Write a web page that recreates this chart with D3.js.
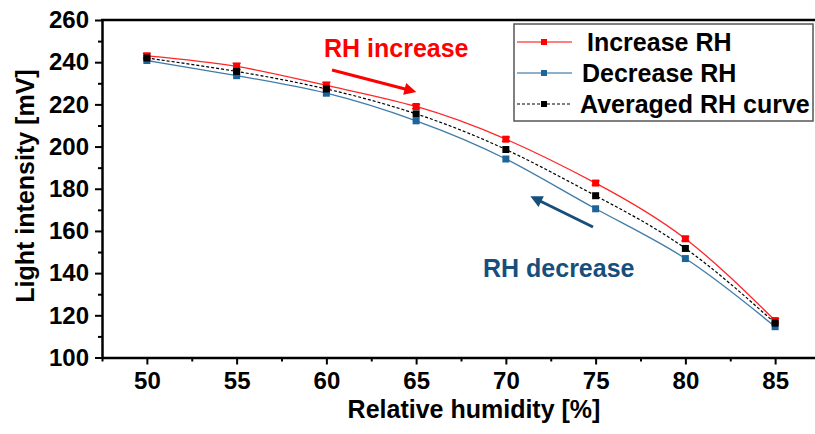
<!DOCTYPE html>
<html>
<head>
<meta charset="utf-8">
<script src="https://cdn.jsdelivr.net/npm/d3@7"></script>
<style>
  body { margin: 0; background: #fff; }
  svg { display: block; font-family: 'Liberation Sans', Arial, sans-serif; font-weight: bold; }
</style>
</head>
<body>
<svg></svg>
<script>
let width = 815;
let height = 434;

// data
let humidity = [50, 55, 60, 65, 70, 75, 80, 85];
let increaseRH = [243, 238, 229, 219, 203.5, 182.7, 156.3, 117.5];
let increaseErr = [1.2, 1.5, 1.5, 1, 1, 1, 1, 1];
let decreaseRH = [240.8, 233.6, 225.3, 212.2, 194.1, 170.5, 146.9, 114.6];
let averagedRH = [242, 235.6, 227.3, 215.5, 198.6, 176.7, 151.7, 116.3];
let xTicks = [50, 55, 60, 65, 70, 75, 80, 85];
let yTicks = [100, 120, 140, 160, 180, 200, 220, 240, 260];

let red = '#ff0000';
let blue = '#1c6499';
let arrowBlue = '#164f7c';

let svg = d3.select('svg')
    .attr('width', width)
    .attr('height', height)

let x = d3.scaleLinear()
    .domain([47.5, 87.5])
    .range([102, 820]);

let y = d3.scaleLinear()
    .domain([100, 260])
    .range([357.5, 20]);

// minor ticks
let xMinor = d3.range(47.5, 88, 2.5).filter(d => xTicks.indexOf(d) < 0);
let yMinor = d3.range(110, 260, 20);

svg.append('g')
    .attr('transform', 'translate(0,357.5)')
    .call(d3.axisBottom(x).tickValues(xMinor).tickSize(4).tickFormat(''))
    .call(g => g.select('.domain').remove())
    .selectAll('line').attr('stroke-width', 2);

svg.append('g')
    .attr('transform', 'translate(102,0)')
    .call(d3.axisLeft(y).tickValues(yMinor).tickSize(4).tickFormat(''))
    .call(g => g.select('.domain').remove())
    .selectAll('line').attr('stroke-width', 2);

let xAxis = svg.append('g')
    .attr('transform', 'translate(0,357.5)')
    .call(d3.axisBottom(x).tickValues(xTicks).tickSize(7).tickPadding(7).tickSizeOuter(0))
xAxis.select('.domain').attr('stroke-width', 2.5)
xAxis.selectAll('line').attr('stroke-width', 2)
xAxis.selectAll('text')
    .attr('font-size', 24)
    .attr('font-family', 'Liberation Sans, Arial, sans-serif')
    .attr('font-weight', 'bold')
    .attr('fill', '#000')

let yAxis = svg.append('g')
    .attr('transform', 'translate(102,0)')
    .call(d3.axisLeft(y).tickValues(yTicks).tickSize(7).tickPadding(6).tickSizeOuter(0))
yAxis.select('.domain').attr('stroke-width', 2.5)
yAxis.selectAll('line').attr('stroke-width', 2)
yAxis.selectAll('text')
    .attr('font-size', 24)
    .attr('font-family', 'Liberation Sans, Arial, sans-serif')
    .attr('font-weight', 'bold')
    .attr('fill', '#000')

// top frame line
svg.append('line')
    .attr('x1', 101).attr('x2', 820)
    .attr('y1', 20).attr('y2', 20)
    .attr('stroke', '#000')
    .attr('stroke-width', 2.5)

// axis titles
svg.append('text')
    .attr('x', 474)
    .attr('y', 418)
    .attr('text-anchor', 'middle')
    .attr('font-size', 25)
    .text('Relative humidity [%]')

svg.append('text')
    .attr('transform', 'translate(34,186) rotate(-90)')
    .attr('text-anchor', 'middle')
    .attr('font-size', 25)
    .text('Light intensity [mV]')

// series
let series = [
    { name: 'Increase RH', values: increaseRH, color: red, dash: null },
    { name: 'Decrease RH', values: decreaseRH, color: blue, dash: null },
    { name: 'Averaged RH curve', values: averagedRH, color: '#000', dash: '3,2' }
];

let line = d3.line()
    .x(d => x(d[0]))
    .y(d => y(d[1]))
    .curve(d3.curveNatural);

series.forEach(function (s) {
    let pts = humidity.map((h, i) => [h, s.values[i]]);
    svg.append('path')
        .datum(pts)
        .attr('d', line)
        .attr('fill', 'none')
        .attr('stroke', s.color)
        .attr('stroke-width', s.dash ? 1.2 : 1.3)
        .attr('stroke-dasharray', s.dash)
        .attr('opacity', s.dash ? 1 : 0.85)
});

// error bars on the increase series
svg.append('g').selectAll('path')
    .data(humidity.map((h, i) => [h, increaseRH[i], increaseErr[i]]))
    .enter()
    .append('path')
    .attr('d', function (d) {
        let cx = x(d[0]);
        let top = y(d[1] + d[2]);
        let bot = y(d[1] - d[2]);
        return 'M' + (cx - 4) + ',' + top + 'H' + (cx + 4) +
            'M' + cx + ',' + top + 'V' + bot +
            'M' + (cx - 4) + ',' + bot + 'H' + (cx + 4);
    })
    .attr('stroke', red)
    .attr('stroke-width', 1.3)
    .attr('fill', 'none')

// markers (blue first, then red, black on top)
let markerOrder = [series[1], series[0], series[2]];
markerOrder.forEach(function (s) {
    svg.append('g').selectAll('rect')
        .data(humidity.map((h, i) => [h, s.values[i]]))
        .enter()
        .append('rect')
        .attr('x', d => x(d[0]) - 3.5)
        .attr('y', d => y(d[1]) - 3.5)
        .attr('width', 7)
        .attr('height', 7)
        .attr('fill', s.color)
});

// annotations
svg.append('text')
    .attr('x', 324)
    .attr('y', 57)
    .attr('font-size', 25)
    .attr('fill', red)
    .text('RH increase')

svg.append('text')
    .attr('x', 483)
    .attr('y', 277)
    .attr('font-size', 25)
    .attr('fill', arrowBlue)
    .text('RH decrease')

let defs = svg.append('defs');
[['arrRed', red], ['arrBlue', arrowBlue]].forEach(function (a) {
    defs.append('marker')
        .attr('id', a[0])
        .attr('viewBox', '0 0 10 10')
        .attr('refX', 2)
        .attr('refY', 5)
        .attr('markerWidth', 4.5)
        .attr('markerHeight', 4)
        .attr('orient', 'auto')
        .append('path')
        .attr('d', 'M0,0L10,5L0,10z')
        .attr('fill', a[1])
});

svg.append('line')
    .attr('x1', 332).attr('y1', 70)
    .attr('x2', 407).attr('y2', 89.5)
    .attr('stroke', red)
    .attr('stroke-width', 3)
    .attr('marker-end', 'url(#arrRed)')

svg.append('line')
    .attr('x1', 593).attr('y1', 227)
    .attr('x2', 539).attr('y2', 200.5)
    .attr('stroke', arrowBlue)
    .attr('stroke-width', 3)
    .attr('marker-end', 'url(#arrBlue)')

// legend
let legend = svg.append('g');
legend.append('rect')
    .attr('x', 514)
    .attr('y', 24)
    .attr('width', 299)
    .attr('height', 97)
    .attr('fill', '#fff')
    .attr('stroke', '#555')
    .attr('stroke-width', 1.5)

let legendX = [587, 582, 580];
let legendY = [42, 73, 104];
series.forEach(function (s, i) {
    let g = legend.append('g')
        .attr('transform', 'translate(0,' + legendY[i] + ')');
    g.append('line')
        .attr('x1', 517).attr('x2', 572)
        .attr('y1', 0).attr('y2', 0)
        .attr('stroke', s.color)
        .attr('stroke-width', 1.2)
        .attr('stroke-dasharray', s.dash)
    g.append('rect')
        .attr('x', 541).attr('y', -3)
        .attr('width', 6).attr('height', 6)
        .attr('fill', s.color)
    g.append('text')
        .attr('x', legendX[i])
        .attr('y', 8.5)
        .attr('font-size', 25)
        .attr('fill', '#000')
        .text(s.name)
});
</script>
</body>
</html>
